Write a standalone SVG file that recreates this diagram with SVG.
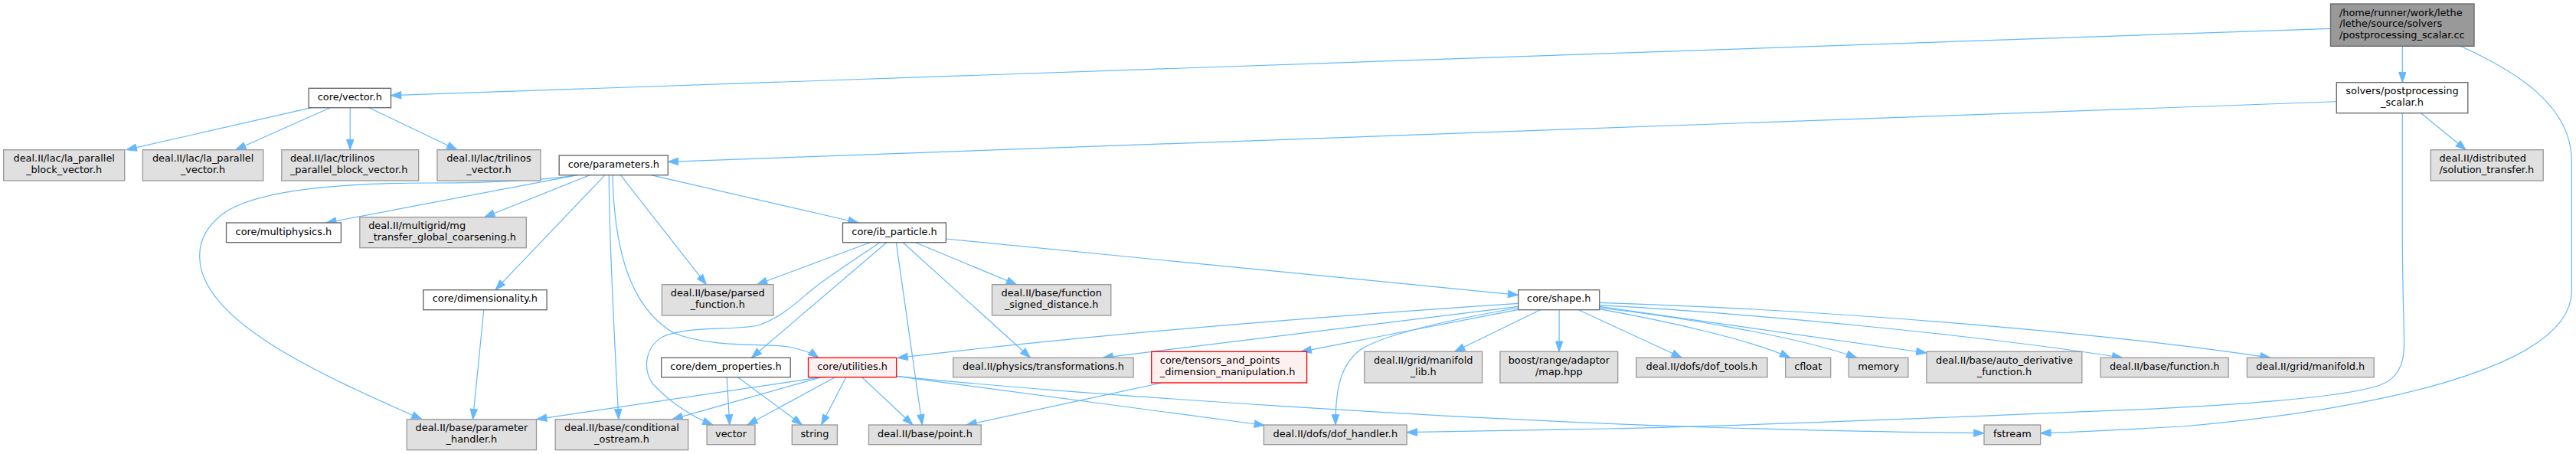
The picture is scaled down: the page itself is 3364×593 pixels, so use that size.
<svg xmlns="http://www.w3.org/2000/svg" width="3364" height="593" viewBox="0 0 3364 593">
<defs>
<style>
.n rect{fill:#ffffff;stroke:#666666;stroke-width:1.33}
.g rect{fill:#e0e0e0;stroke:#999999;stroke-width:1.33}
.r rect{fill:#fff0f0;stroke:#ff0000;stroke-width:1.33}
.m rect{fill:#999999;stroke:#666666;stroke-width:1.33}
text{font-family:"DejaVu Sans","Liberation Sans",sans-serif;font-size:12.9px;fill:#000000}
.c text{text-anchor:middle}
.l text{text-anchor:start}
#edges path{fill:none;stroke:#63b8ff;stroke-width:1.2;marker-end:url(#ah)}
</style>
<marker id="ah" markerUnits="userSpaceOnUse" markerWidth="14" markerHeight="10" refX="13.3" refY="4.67" orient="auto" overflow="visible">
<path d="M0,0 L13.3,4.67 L0,9.33 Z" fill="#63b8ff" stroke="#63b8ff" stroke-width="1"/>
</marker>
</defs>
<rect x="0" y="0" width="3364" height="593" fill="#ffffff"/>
<g id="edges">
<path d="M3043.5,37.3 L510.5,124.7"/>
<path d="M3137.3,60.3 L3137.3,107.7"/>
<path d="M3213.2,60.3 C3290,95 3358.3,140 3358.3,210 L3358.3,380 C3358.3,470 3150,530 2850,557 C2760,562 2700,565 2664.7,565.7"/>
<path d="M3051.3,132.7 L872.3,211.3"/>
<path d="M3161.5,147.7 L3220.3,195.7"/>
<path d="M3137.3,147.7 L3137.3,300 C3137.3,380 3139.5,420 3139.5,450 C3139.5,478 3130,495 3108,503 C3060,520 2900,530 2805,534.3 C2600,543 2300,556 2100,560 C1980,562.5 1880,564 1837.2,564.7"/>
<path d="M406.8,140.7 L165,195.7"/>
<path d="M431.1,140.7 L307.7,195.7"/>
<path d="M457.2,140.7 L457.2,195.7"/>
<path d="M481.9,140.7 L597,195.7"/>
<path d="M754.2,228.7 L425.8,291"/>
<path d="M754.2,228.7 C700,237 620,239 561,239 C430,239 330,250 290,280 C265,300 260,320 260.8,336.3 C262,420 420,490 551,547.7"/>
<path d="M770.3,228.7 L632.6,283.7"/>
<path d="M790,228.7 L646.9,378.7"/>
<path d="M795.3,228.7 C795.3,300 800,400 807.9,547.7"/>
<path d="M800,228.7 C802,320 820,400 880,435 C930,455 1000,448 1030,453 C1045,456 1060,461 1069,467.3"/>
<path d="M810.4,228.7 L922.4,371.7"/>
<path d="M850.1,228.7 L1121,291"/>
<path d="M631.8,404.7 L617.5,547.7"/>
<path d="M1136.3,316.7 L988.5,371.7"/>
<path d="M1148.8,316.7 C1130,330 1090,355 1062,377 C1040,395 1020,415 990,425 C960,432 900,425 865,440 C840,455 838,490 858,507 C875,525 905,545 931,555"/>
<path d="M1157.8,316.7 L981.4,467.3"/>
<path d="M1170.3,316.7 L1204.3,555"/>
<path d="M1179.2,316.7 L1345.6,467.3"/>
<path d="M1195.3,316.7 L1327.7,371.7"/>
<path d="M1235.4,312 L1982.8,385.3"/>
<path d="M1982.8,396.3 C1700,415 1400,440 1172,467.5"/>
<path d="M1982.8,400.3 L1440,467.3"/>
<path d="M1982.8,402 C1880,420 1800,440 1775,458 C1750,478 1744,510 1744,555"/>
<path d="M1982.8,404.3 L1699,459.3"/>
<path d="M2011.4,404.7 L1899.5,459.3"/>
<path d="M2036.1,404.7 L2036.1,459.3"/>
<path d="M2061.5,404.7 L2196.4,467.3"/>
<path d="M2088.7,403.7 C2180,420 2290,445 2337.7,467.3"/>
<path d="M2088.7,402 C2200,415 2350,440 2424.7,467.3"/>
<path d="M2088.7,400.3 L2516,461"/>
<path d="M2088.7,398.7 C2300,410 2600,440 2771.7,467.3"/>
<path d="M2088.7,395.3 C2400,405 2750,435 2965,467.3"/>
<path d="M1170.7,491.3 C1400,515 1900,548 2244,558.5 C2400,563 2500,565 2591,565.7"/>
<path d="M1170.7,491.3 L1651.5,555.5"/>
<path d="M1072.6,492.7 L700.5,547.7"/>
<path d="M1072.6,492.7 L878,547.7"/>
<path d="M1090.5,492.7 L976,555"/>
<path d="M1104.8,492.7 L1072.6,555"/>
<path d="M1125.6,492.7 L1192,555"/>
<path d="M949.2,492.7 L952.8,555"/>
<path d="M963.5,492.7 L1047.6,555"/>
<path d="M1517.3,500 L1262,555"/>
</g>
<g id="main" class="m l"><rect x="3043.5" y="5" width="187.5" height="55.3"/><text x="3054.9" y="20.7">/home/runner/work/lethe</text><text x="3054.9" y="35.4">/lethe/source/solvers</text><text x="3054.9" y="50">/postprocessing_scalar.cc</text></g>
<g id="solvers_postprocessing_scalar" class="n c"><rect x="3051.3" y="107.7" width="171.5" height="40"/><text x="3137" y="123.4">solvers/postprocessing</text><text x="3137" y="138.1">_scalar.h</text></g>
<g id="solution_transfer" class="g l"><rect x="3174.3" y="195.7" width="146.9" height="40.3"/><text x="3185.4" y="211.4">deal.II/distributed</text><text x="3185.4" y="226.1">/solution_transfer.h</text></g>
<g id="core_vector" class="n c"><rect x="403.2" y="115.3" width="107.3" height="25.4"/><text x="456.9" y="131">core/vector.h</text></g>
<g id="la_parallel_block_vector" class="g c"><rect x="4.65" y="195.7" width="158.1" height="40.3"/><text x="83.7" y="211.4">deal.II/lac/la_parallel</text><text x="83.7" y="226.1">_block_vector.h</text></g>
<g id="la_parallel_vector" class="g c"><rect x="186.4" y="195.7" width="157.4" height="40.3"/><text x="265.1" y="211.4">deal.II/lac/la_parallel</text><text x="265.1" y="226.1">_vector.h</text></g>
<g id="trilinos_parallel_block_vector" class="g l"><rect x="367.8" y="195.7" width="178.9" height="40.3"/><text x="378.9" y="211.4">deal.II/lac/trilinos</text><text x="378.9" y="226.1">_parallel_block_vector.h</text></g>
<g id="trilinos_vector" class="g c"><rect x="571" y="195.7" width="134.9" height="40.3"/><text x="638.4" y="211.4">deal.II/lac/trilinos</text><text x="638.4" y="226.1">_vector.h</text></g>
<g id="core_parameters" class="n c"><rect x="730.2" y="203" width="142.1" height="25.7"/><text x="801.3" y="218.7">core/parameters.h</text></g>
<g id="core_multiphysics" class="n c"><rect x="295.5" y="291" width="149.9" height="25.7"/><text x="370.4" y="306.7">core/multiphysics.h</text></g>
<g id="mg_transfer_global_coarsening" class="g l"><rect x="469.8" y="283.7" width="217.5" height="40"/><text x="481.2" y="299.4">deal.II/multigrid/mg</text><text x="481.2" y="314.1">_transfer_global_coarsening.h</text></g>
<g id="core_dimensionality" class="n c"><rect x="552.8" y="378.7" width="161.3" height="26"/><text x="633.4" y="394.4">core/dimensionality.h</text></g>
<g id="parameter_handler" class="g c"><rect x="531.3" y="547.7" width="169.2" height="40"/><text x="615.9" y="563.4">deal.II/base/parameter</text><text x="615.9" y="578.1">_handler.h</text></g>
<g id="conditional_ostream" class="g c"><rect x="725.2" y="547.7" width="173.5" height="40"/><text x="812" y="563.4">deal.II/base/conditional</text><text x="812" y="578.1">_ostream.h</text></g>
<g id="std_vector" class="g c"><rect x="923.1" y="555" width="62.9" height="25.7"/><text x="954.5" y="570.7">vector</text></g>
<g id="std_string" class="g c"><rect x="1034.3" y="555" width="59.1" height="25.7"/><text x="1063.9" y="570.7">string</text></g>
<g id="parsed_function" class="g c"><rect x="864.4" y="371.7" width="145.6" height="40.3"/><text x="937.2" y="387.4">deal.II/base/parsed</text><text x="937.2" y="402.1">_function.h</text></g>
<g id="core_dem_properties" class="n c"><rect x="863.7" y="467.3" width="168.5" height="25.4"/><text x="948" y="483">core/dem_properties.h</text></g>
<g id="core_utilities" class="r c"><rect x="1055.5" y="467.3" width="115.2" height="25.4"/><text x="1113.1" y="483">core/utilities.h</text></g>
<g id="core_ib_particle" class="n c"><rect x="1100.5" y="291" width="134.9" height="25.7"/><text x="1168" y="306.7">core/ib_particle.h</text></g>
<g id="function_signed_distance" class="g c"><rect x="1295.5" y="371.7" width="155.3" height="40.3"/><text x="1373.2" y="387.4">deal.II/base/function</text><text x="1373.2" y="402.1">_signed_distance.h</text></g>
<g id="transformations" class="g c"><rect x="1244.7" y="467.3" width="235.4" height="25.4"/><text x="1362.4" y="483">deal.II/physics/transformations.h</text></g>
<g id="core_tensors" class="r l"><rect x="1503.7" y="459.3" width="202.9" height="40.7"/><text x="1514.8" y="475">core/tensors_and_points</text><text x="1514.8" y="489.7">_dimension_manipulation.h</text></g>
<g id="point" class="g c"><rect x="1134.5" y="555" width="146.7" height="25.7"/><text x="1207.9" y="570.7">deal.II/base/point.h</text></g>
<g id="dof_handler" class="g c"><rect x="1650.4" y="555" width="186.8" height="25.7"/><text x="1743.8" y="570.7">deal.II/dofs/dof_handler.h</text></g>
<g id="core_shape" class="n c"><rect x="1982.8" y="378.7" width="105.9" height="26"/><text x="2035.8" y="394.4">core/shape.h</text></g>
<g id="manifold_lib" class="g c"><rect x="1781.7" y="459.3" width="153.9" height="40.7"/><text x="1858.7" y="475">deal.II/grid/manifold</text><text x="1858.7" y="489.7">_lib.h</text></g>
<g id="boost_map" class="g c"><rect x="1958.9" y="459.3" width="153.8" height="40.7"/><text x="2035.8" y="475">boost/range/adaptor</text><text x="2035.8" y="489.7">/map.hpp</text></g>
<g id="dof_tools" class="g c"><rect x="2136.7" y="467.3" width="171.3" height="25.4"/><text x="2222.4" y="483">deal.II/dofs/dof_tools.h</text></g>
<g id="cfloat" class="g c"><rect x="2331.7" y="467.3" width="59" height="25.4"/><text x="2361.2" y="483">cfloat</text></g>
<g id="memory" class="g c"><rect x="2414.3" y="467.3" width="77.6" height="25.4"/><text x="2453.1" y="483">memory</text></g>
<g id="auto_derivative_function" class="g c"><rect x="2515.9" y="459.3" width="202.9" height="40.7"/><text x="2617.4" y="475">deal.II/base/auto_derivative</text><text x="2617.4" y="489.7">_function.h</text></g>
<g id="function" class="g c"><rect x="2743.1" y="467.3" width="167.1" height="25.4"/><text x="2826.7" y="483">deal.II/base/function.h</text></g>
<g id="manifold" class="g c"><rect x="2934.4" y="467.3" width="165.8" height="25.4"/><text x="3017.3" y="483">deal.II/grid/manifold.h</text></g>
<g id="fstream" class="g c"><rect x="2591" y="555" width="73.7" height="25.7"/><text x="2627.9" y="570.7">fstream</text></g>
</svg>
